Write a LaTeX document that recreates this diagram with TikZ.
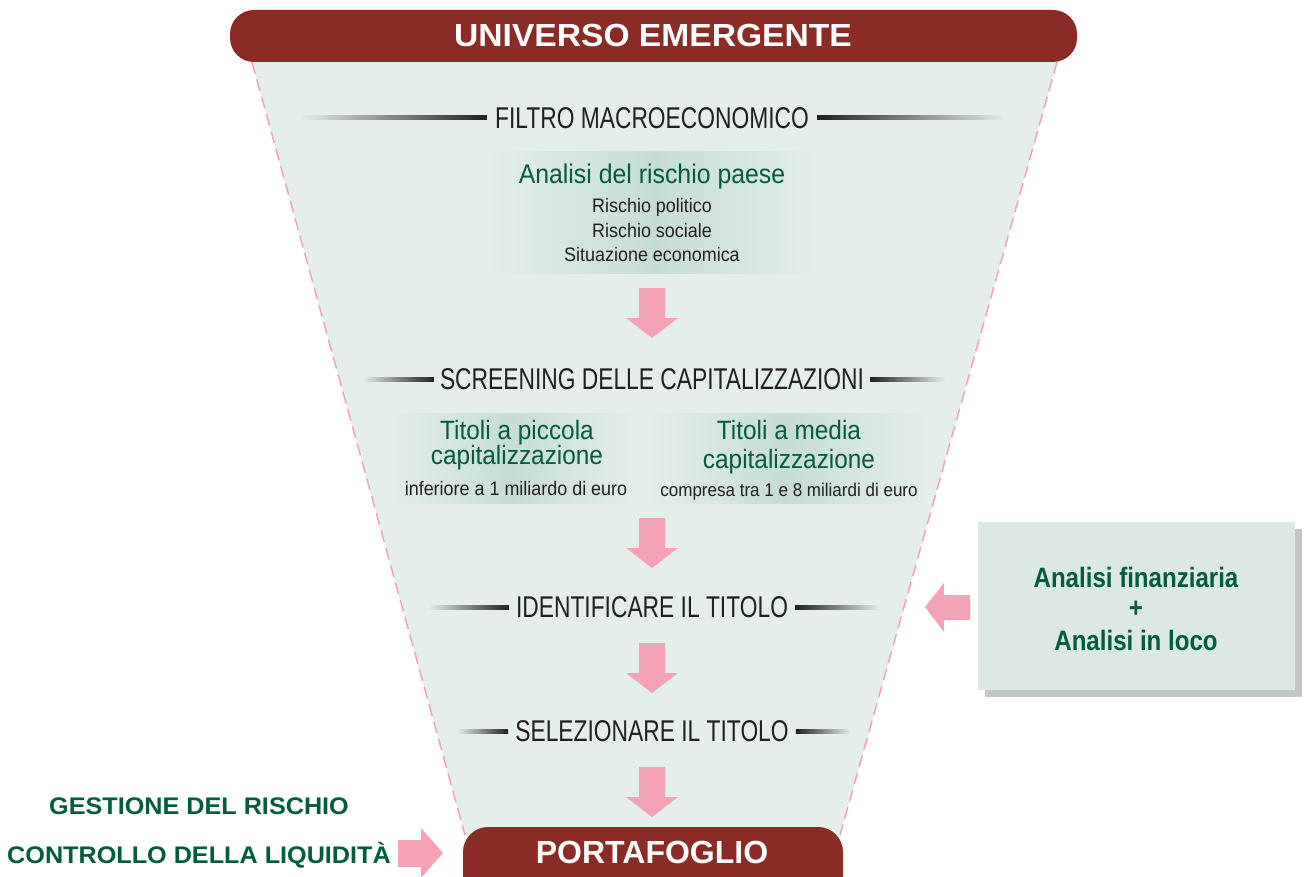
\documentclass[tikz,border=0pt]{standalone}
\usepackage{fontspec}
\setmainfont{Liberation Sans}
\newfontfamily\cnd[FakeStretch=0.76]{Liberation Sans}
\newfontfamily\lcnd[FakeStretch=0.92]{Liberation Sans}
\newfontfamily\bcnd[FakeStretch=0.86]{Liberation Sans}
\newfontfamily\wideb[FakeStretch=1.05]{Liberation Sans}
\definecolor{bandred}{HTML}{8B2B25}
\definecolor{funnel}{HTML}{E4EEEA}
\definecolor{pk}{HTML}{F4A3B6}
\definecolor{grn}{HTML}{005C3C}
\definecolor{boxc}{HTML}{DCE8E3}
\definecolor{midg}{HTML}{C6DDD4}
\definecolor{shd}{HTML}{C4C5C7}
\definecolor{txt}{HTML}{231F20}
\newcommand\dnarrow[1]{\fill[pk] (639,#1) -- (665,#1) -- (665,#1+30) -- (678,#1+30) -- (652,#1+50) -- (626,#1+30) -- (639,#1+30) -- cycle;}
\begin{document}
\begin{tikzpicture}[x=1pt,y=-1pt,
  stage/.style={font=\cnd\fontsize{30}{30}\selectfont, text=txt, inner sep=0pt},
  band/.style={font=\wideb\bfseries\fontsize{32}{32}\selectfont, text=white, inner sep=0pt},
  gtitle/.style={font=\lcnd\fontsize{27}{27}\selectfont, text=grn, inner sep=0pt},
  gsub/.style={font=\lcnd\fontsize{26.5}{26.5}\selectfont, text=grn, inner sep=0pt},
  small/.style={font=\lcnd\fontsize{19.5}{19.5}\selectfont, text=txt, inner sep=0pt},
  bgreen/.style={font=\bcnd\bfseries\fontsize{28}{28}\selectfont, text=grn, inner sep=0pt},
  lgreen/.style={font=\wideb\bfseries\fontsize{24}{24}\selectfont, text=grn, inner sep=0pt},
  edge/.style={pk, line width=1.5pt, dash pattern=on 12pt off 6pt},
  gbox/.style={left color=funnel, right color=funnel, middle color=midg}
]
\useasboundingbox (0,0) rectangle (1305,877);
\fill[white] (0,0) rectangle (1305,877);
% funnel
\fill[funnel] (252,62) -- (1057,62) -- (840,835) -- (465,835) -- cycle;
\draw[edge] (252,62) -- (465,835);
\draw[edge] (1057,62) -- (840,835);
% top band
\fill[bandred, rounded corners=24pt] (230,10) rectangle (1077,62);
\node[band] (univ) at (653,35) {UNIVERSO EMERGENTE};
% filtro
\node[stage] (filtro) at (652,118) {FILTRO MACROECONOMICO};
\shade[left color=funnel, right color=txt] (300,116) rectangle ([xshift=-8pt,yshift=-2pt]filtro.west);
\shade[left color=txt, right color=funnel] ([xshift=8pt,yshift=2pt]filtro.east) rectangle (1005,120);
% box 1
\shade[gbox] (490,152) rectangle (820,273);
\node[gtitle] (ana) at (652,177) {Analisi del rischio paese};
\node[small] (r1) at (652,207) {Rischio politico};
\node[small] (r2) at (652,231) {Rischio sociale};
\node[small] (r3) at (652,255) {Situazione economica};
\dnarrow{288}
% screening
\node[stage] (scr) at (652,379) {SCREENING DELLE CAPITALIZZAZIONI};
\shade[left color=funnel, right color=txt] (362,377) rectangle ([xshift=-6pt,yshift=-2pt]scr.west);
\shade[left color=txt, right color=funnel] ([xshift=6pt,yshift=2pt]scr.east) rectangle (945,381);
\shade[gbox] (390,413) rectangle (634,503);
\shade[gbox] (648,413) rectangle (925,503);
\node[gsub] (p1) at (517,433) {Titoli a piccola};
\node[gsub] (p2) at (517,458) {capitalizzazione};
\node[small] (p3) at (516,489) {inferiore a 1 miliardo di euro};
\node[gsub] (m1) at (789,430) {Titoli a media};
\node[gsub] (m2) at (789,462) {capitalizzazione};
\node[small, font=\lcnd\fontsize{18.5}{18.5}\selectfont] (m3) at (789,492) {compresa tra 1 e 8 miliardi di euro};
\dnarrow{518}
% identificare
\node[stage] (ident) at (652,607) {IDENTIFICARE IL TITOLO};
\shade[left color=funnel, right color=txt] (428,605) rectangle ([xshift=-7pt,yshift=-2pt]ident.west);
\shade[left color=txt, right color=funnel] ([xshift=7pt,yshift=2pt]ident.east) rectangle (880,609);
\dnarrow{643}
% selezionare
\node[stage] (sel) at (652,731) {SELEZIONARE IL TITOLO};
\shade[left color=funnel, right color=txt] (457,729) rectangle ([xshift=-7pt,yshift=-2pt]sel.west);
\shade[left color=txt, right color=funnel] ([xshift=7pt,yshift=2pt]sel.east) rectangle (850,733);
\dnarrow{767}
% bottom band
\fill[bandred, rounded corners=25pt] (463,827) rectangle (843,905);
\node[band, font=\bfseries\fontsize{32}{32}\selectfont] (port) at (652,852) {PORTAFOGLIO};
% right box
\fill[shd] (985,529) rectangle (1302,697);
\fill[boxc] (978,522) rectangle (1295,690);
\node[bgreen] (af) at (1136,577) {Analisi finanziaria};
\node[bgreen] (plus) at (1136,609) {+};
\node[bgreen] (al) at (1136,640) {Analisi in loco};
\fill[pk] (925,607) -- (944,583) -- (944,595) -- (970,595) -- (970,620) -- (944,620) -- (944,632) -- cycle;
% left texts
\node[lgreen] (ges) at (199,806) {GESTIONE DEL RISCHIO};
\node[lgreen] (liq) at (199,855) {CONTROLLO DELLA LIQUIDITÀ};
\fill[pk] (398,840) -- (421,840) -- (421,828) -- (443,853) -- (421,878) -- (421,867) -- (398,867) -- cycle;
\end{tikzpicture}
\end{document}
